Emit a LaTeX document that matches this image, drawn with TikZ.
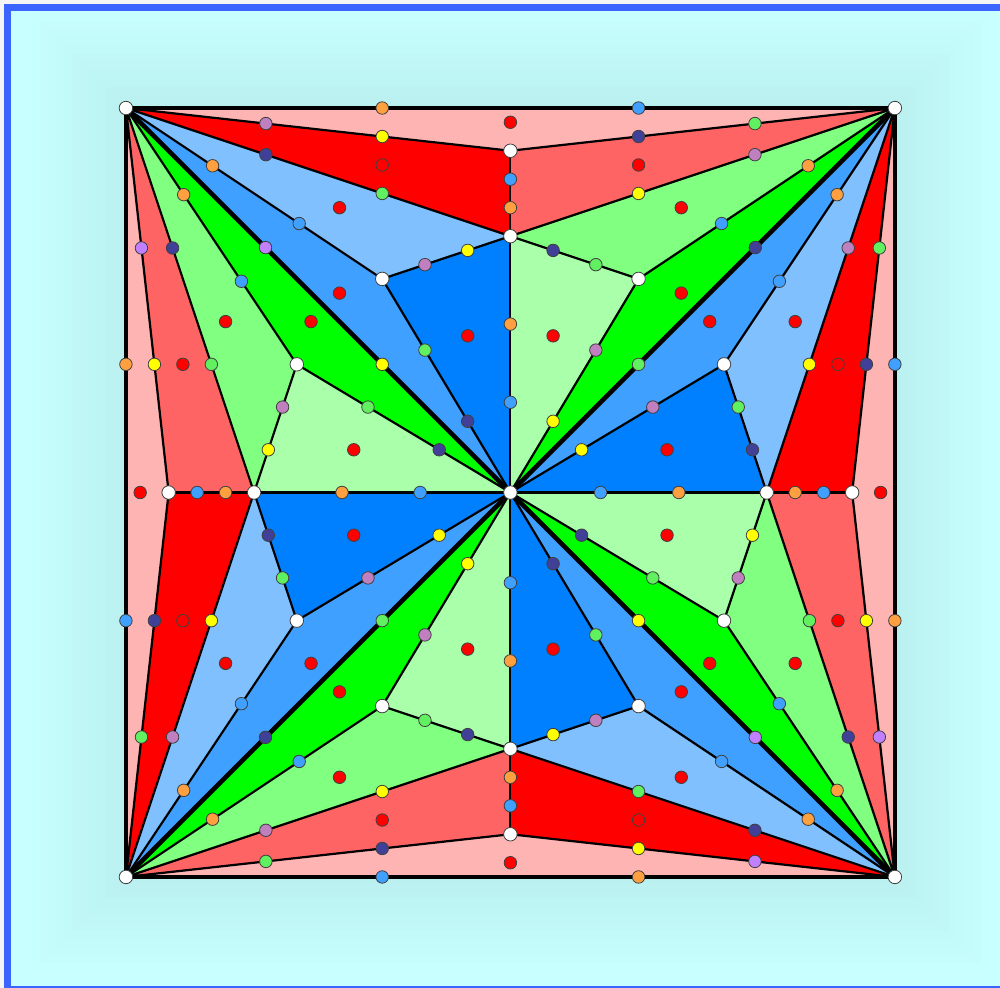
\documentclass[tikz,border=0pt]{standalone}
\usepackage{xcolor}
\usepackage{tikz}
\usetikzlibrary{calc}

% region colours
\definecolor{rpink}{HTML}{FFB4B4}
\definecolor{rred}{HTML}{FF0000}
\definecolor{rsalmon}{HTML}{FF6464}
\definecolor{rlblue}{HTML}{80C0FF}
\definecolor{rmblue}{HTML}{40A0FF}
\definecolor{rdblue}{HTML}{0080FF}
\definecolor{rlgreen}{HTML}{80FF80}
\definecolor{rgreen}{HTML}{00FF00}
\definecolor{rpgreen}{HTML}{AAFFAA}
% dot colours
\definecolor{dor}{HTML}{FFA040}
\definecolor{dbl}{HTML}{40A0FF}
\definecolor{dye}{HTML}{FFFF00}
\definecolor{dlg}{HTML}{60F060}
\definecolor{ddb}{HTML}{404098}
\definecolor{dmv}{HTML}{C080C0}
\definecolor{dvi}{HTML}{C080FF}
\definecolor{dre}{HTML}{FF0000}
% background
\definecolor{bgcyan}{HTML}{C8FFFF}
\definecolor{glowc}{HTML}{B9EFEF}
\definecolor{frameblue}{HTML}{3C64FF}

\begin{document}
\begin{tikzpicture}[x=0.8544cm, y=0.8544cm,
    edge/.style={line width=0.044cm, line join=round},
    heavy/.style={line width=0.09cm, line join=miter},
    vtx/.style={circle, fill=white, draw=black!75, line width=0.016cm,
                inner sep=0pt, minimum size=0.27cm},
    pt/.style={circle, fill=#1, draw=black!75, line width=0.016cm,
               inner sep=0pt, minimum size=0.25cm}]
  \useasboundingbox (-11.948,-11.599) rectangle (11.461,11.529);

  % background, soft glow and frame
  \fill[black!4] (-11.948,-11.599) rectangle (11.461,11.529);
  \fill[bgcyan] (-11.772,-11.634) rectangle (11.695,11.353);
  \foreach \k in {1,...,12} {
    \pgfmathsetmacro\m{11.4-0.19*\k}
    \pgfmathsetmacro\w{8*\k}
    \fill[glowc!\w!bgcyan] (-\m,-\m) rectangle (\m,\m);
  }
  \draw[frameblue, line width=0.14cm] (-11.772,-11.634) rectangle (11.695,11.353);

  % vertices of the four sectors
  \coordinate (O) at (0,0);
  \foreach \s/\a in {t/0, l/90, b/180, r/270} {
    \begin{scope}[rotate=\a]
      \coordinate (L\s) at (-9,9);
      \coordinate (R\s) at (9,9);
      \coordinate (A\s) at (0,8);
      \coordinate (B\s) at (0,6);
      \coordinate (P\s) at (-3,5);
      \coordinate (Q\s) at (3,5);
      \coordinate (O\s) at (0,0);
    \end{scope}
  }

  % faces
  \foreach \s in {t,l,b,r} {
    \fill[rpink]   (L\s) -- (R\s) -- (A\s) -- cycle;
    \fill[rred]    (L\s) -- (A\s) -- (B\s) -- cycle;
    \fill[rsalmon] (R\s) -- (A\s) -- (B\s) -- cycle;
    \fill[rlblue]  (L\s) -- (B\s) -- (P\s) -- cycle;
    \fill[rmblue]  (L\s) -- (P\s) -- (O) -- cycle;
    \fill[rdblue]  (B\s) -- (P\s) -- (O) -- cycle;
    \fill[rlgreen] (R\s) -- (B\s) -- (Q\s) -- cycle;
    \fill[rgreen]  (R\s) -- (Q\s) -- (O) -- cycle;
    \fill[rpgreen] (B\s) -- (Q\s) -- (O) -- cycle;
  }

  % edges
  \foreach \s in {t,l,b,r} {
    \draw[edge] (L\s) -- (A\s) -- (R\s) -- (B\s) -- (L\s);
    \draw[edge] (A\s) -- (B\s) -- (O);
    \draw[edge] (L\s) -- (P\s) -- (B\s) -- (Q\s) -- (R\s);
    \draw[edge] (P\s) -- (O) -- (Q\s);
  }
  \draw[heavy] (Lt) -- (Rt) -- (Rr) -- (Rb) -- cycle;
  \draw[heavy] (Lt) -- (Lb);
  \draw[heavy] (Rt) -- (Rb);

  % edge marks, top and bottom sectors
  \foreach \s/\n in {t/dmv, b/dvi} {
    \foreach \p/\q/\f/\col [count=\i] in {
        L/R/.3333/dor, L/R/.6667/dbl, L/A/.364/\n, L/A/.6667/dye,
        R/A/.364/dlg, R/A/.6667/ddb, A/B/.3333/dbl, A/B/.6667/dor,
        L/B/.364/ddb, L/B/.6667/dlg, R/B/.364/dmv, R/B/.6667/dye,
        L/P/.338/dor, L/P/.676/dbl, R/Q/.338/dor, R/Q/.676/dbl,
        B/P/.3333/dye, B/P/.6667/dmv, B/Q/.3333/ddb, B/Q/.6667/dlg,
        P/O/.3333/dlg, P/O/.6667/ddb, Q/O/.3333/dmv, Q/O/.6667/dye,
        B/O/.343/dor, B/O/.648/dbl, L/O/.363/dvi, L/O/.6667/dye}
      \node[pt=\col] (e\s\i) at ($(\p\s)!\f!(\q\s)$) {};
  }
  % edge marks, left and right sectors
  \foreach \s in {l,r} {
    \foreach \p/\q/\f/\col [count=\i] in {
        L/R/.3333/dbl, L/R/.6667/dor, L/A/.364/dlg, L/A/.6667/ddb,
        R/A/.364/dvi, R/A/.6667/dye, A/B/.3333/dbl, A/B/.6667/dor,
        L/B/.364/dmv, L/B/.6667/dye, R/B/.364/ddb, R/B/.6667/dlg,
        L/P/.338/dor, L/P/.676/dbl, R/Q/.338/dor, R/Q/.676/dbl,
        B/P/.3333/ddb, B/P/.6667/dlg, B/Q/.3333/dye, B/Q/.6667/dmv,
        P/O/.3333/dmv, P/O/.6667/dye, Q/O/.3333/dlg, Q/O/.6667/ddb,
        B/O/.343/dor, B/O/.648/dbl, L/O/.363/ddb, L/O/.6667/dlg}
      \node[pt=\col] (e\s\i) at ($(\p\s)!\f!(\q\s)$) {};
  }

  % face marks
  \foreach \s in {t,l,b,r} {
    \foreach \p/\q/\r [count=\i] in {L/R/A, L/A/B, R/A/B, L/B/P, L/P/O,
                                     B/P/O, R/B/Q, R/Q/O, B/Q/O}
      \node[pt=dre] (f\s\i) at ($(\p\s)!0.5!(\q\s)!0.3333!(\r\s)$) {};
  }

  % vertices
  \node[vtx] (vO) at (O) {};
  \foreach \s in {t,l,b,r}
    \foreach \v in {L,A,B,P,Q}
      \node[vtx] (v\v\s) at (\v\s) {};
\end{tikzpicture}
\end{document}
